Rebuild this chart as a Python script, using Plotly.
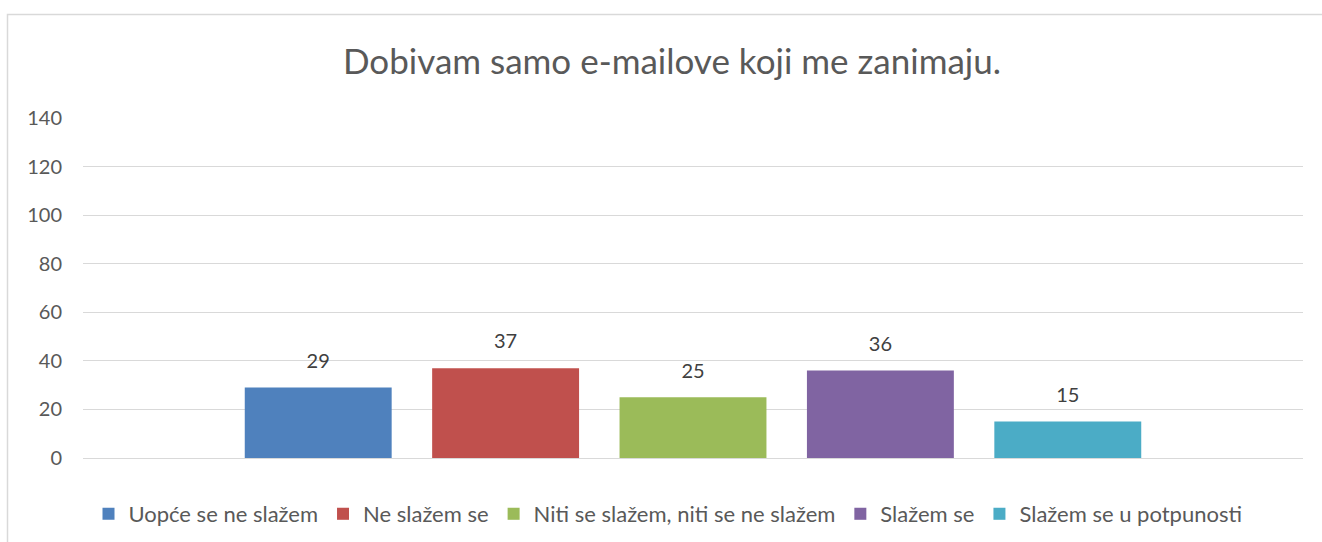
import plotly.graph_objects as go

title = "Dobivam samo e-mailove koji me zanimaju."
series_names = ["Uopće se ne slažem", "Ne slažem se", "Niti se slažem, niti se ne slažem",
                "Slažem se", "Slažem se u potpunosti"]
values = [29, 37, 25, 36, 15]
colors = ["#4F81BD", "#C0504D", "#9BBB59", "#8064A2", "#4BACC6"]
category = [""]
y_ticks = [0, 20, 40, 60, 80, 100, 120, 140]

FONT = "Lato"
fig = go.Figure()
for name, v, c in zip(series_names, values, colors):
    fig.add_trace(go.Bar(
        x=category, y=[v], name=name, marker=dict(color=c, line=dict(width=0)),
    ))
# data labels, grouped like the bars
for name, v in zip(series_names, values):
    fig.add_trace(go.Scatter(
        x=category, y=[v], mode="markers+text", text=[str(v)], textposition="top center",
        marker=dict(size=22, opacity=0), showlegend=False, hoverinfo="skip",
        textfont=dict(family=FONT, size=20, color="#404040"), cliponaxis=False,
    ))

W, H = 1322, 542
L, R, T, B = 83, 19, 118, 84
pw, ph = W - L - R, H - T - B

fig.update_layout(
    width=W, height=H,
    margin=dict(l=L, r=R, t=T, b=B, autoexpand=False),
    paper_bgcolor="white", plot_bgcolor="white",
    barmode="group", bargap=0.232, bargroupgap=0.216,
    scattermode="group", scattergap=0.232,
    title=dict(text=title, x=672 / W, xanchor="center", y=1 - 62 / H, yanchor="middle",
               font=dict(family=FONT, size=35, color="#595959")),
    font=dict(family=FONT, color="#595959"),
    xaxis=dict(range=[-0.5, 0.5], showticklabels=False, showgrid=False, zeroline=False,
               showline=False, fixedrange=True),
    yaxis=dict(range=[0, 140], tickvals=y_ticks, showgrid=True, gridcolor="#D9D9D9",
               gridwidth=1.3, zeroline=True, zerolinecolor="#D9D9D9", zerolinewidth=1.3,
               showline=False, ticks="", tickfont=dict(family=FONT, size=20, color="#595959"),
               ticklabelstandoff=20),
    legend=dict(orientation="h", x=(668 - L) / pw, xanchor="center", y=-(514 - 458) / ph,
                yanchor="middle", font=dict(family=FONT, size=22, color="#595959"),
                itemwidth=30, traceorder="normal"),
    showlegend=True,
)

# chart border (Excel chart area frame, partially cropped): only left and top edges visible
x0p = (7.5 - L) / pw
y1p = (H - B - 14.5) / ph
fig.add_shape(type="path", xref="paper", yref="paper",
              path=f"M {x0p},-1 L {x0p},{y1p} L 1.5,{y1p}",
              line=dict(color="#D9D9D9", width=1.5), layer="below")

fig.write_html("out.html", config={"displayModeBar": False},
               post_script="document.body.style.margin='0';")
